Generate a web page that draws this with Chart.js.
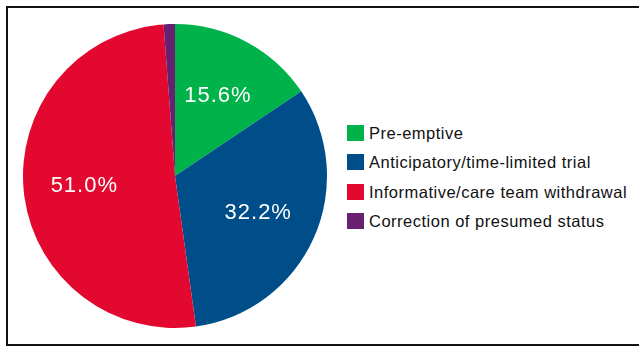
<!DOCTYPE html>
<html>
<head>
<meta charset="utf-8">
<script src="https://cdn.jsdelivr.net/npm/chart.js@4/dist/chart.umd.min.js"></script>
<style>
  html, body { margin: 0; padding: 0; background: #fff; }
  body { width: 639px; height: 348px; position: relative; overflow: hidden; font-family: "Liberation Sans", Arial, sans-serif; }
  #frame { position: absolute; left: 6px; top: 6px; width: 660px; height: 336px; border: 2px solid #111; border-right: none; }
  #wrap { position: absolute; left: 21px; top: 22px; width: 308px; height: 308px; }
  #legend { position: absolute; left: 347px; top: 124px; }
  .item { height: 29.3px; display: flex; align-items: flex-start; font-size: 16.5px; letter-spacing: 0.5px; color: #111; }
  .box { width: 17px; height: 16px; margin-right: 5px; margin-top: 1px; }
  .item span { line-height: 18px; }
</style>
</head>
<body>
<div id="frame"></div>
<div id="wrap"><canvas id="c"></canvas></div>
<div id="legend"></div>
<script>
// categories / values / colours
const labels = ['Pre-emptive', 'Anticipatory/time-limited trial', 'Informative/care team withdrawal', 'Correction of presumed status'];
const values = [15.6, 32.2, 51.0, 1.2];
const colors = ['#00b24a', '#004e89', '#e3082f', '#682170'];

// percent labels inside the bigger slices
const sliceLabels = {
  id: 'sliceLabels',
  afterDatasetsDraw(chart) {
    const ctx = chart.ctx;
    const meta = chart.getDatasetMeta(0);
    ctx.save();
    ctx.fillStyle = '#fff';
    ctx.font = '22px "Liberation Sans", Arial, sans-serif';
    ctx.letterSpacing = '1px';
    ctx.textAlign = 'center';
    ctx.textBaseline = 'middle';
    meta.data.forEach((arc, i) => {
      if (values[i] < 5) return;
      const p = arc.getProps(['x', 'y', 'startAngle', 'endAngle', 'outerRadius'], true);
      const mid = (p.startAngle + p.endAngle) / 2;
      const r = p.outerRadius * 0.6;
      ctx.fillText(values[i].toFixed(1) + '%', p.x + Math.cos(mid) * r, p.y + Math.sin(mid) * r);
    });
    ctx.restore();
  }
};

new Chart(document.getElementById('c'), {
  type: 'pie',
  data: {
    labels: labels,
    datasets: [{
      data: values,
      backgroundColor: colors,
      borderWidth: 0
    }]
  },
  options: {
    responsive: true,
    maintainAspectRatio: false,
    animation: false,
    layout: { padding: 2 },
    plugins: {
      legend: { display: false },
      tooltip: { enabled: false }
    }
  },
  plugins: [sliceLabels]
});

const legend = document.getElementById('legend');
labels.forEach((l, i) => {
  const row = document.createElement('div');
  row.className = 'item';
  row.innerHTML = `<div class="box" style="background:${colors[i]}"></div><span>${l}</span>`;
  legend.appendChild(row);
});
</script>
</body>
</html>
